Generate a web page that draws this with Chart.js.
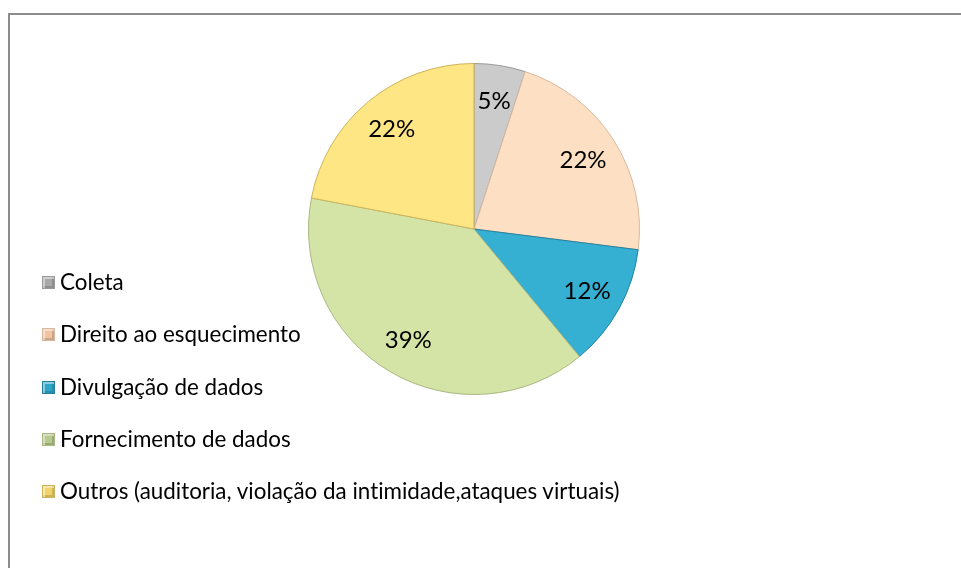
<!DOCTYPE html>
<html>
<head>
<meta charset="utf-8">
<script src="https://cdn.jsdelivr.net/npm/chart.js@4/dist/chart.umd.min.js"></script>
<style>
  html, body { margin: 0; padding: 0; background: #fff; }
  #wrap { position: relative; width: 961px; height: 568px; overflow: hidden; }
  #frame { position: absolute; left: 8px; top: 13px; width: 980px; height: 600px;
           border-top: 2px solid #8c8c8c; border-left: 2px solid #8c8c8c; box-sizing: border-box; }
  canvas { position: absolute; left: 0; top: 0; }
  #legend { position: absolute; left: 42px; top: 270px; font-family: Lato, "Open Sans", sans-serif;
            font-size: 22.4px; color: #000; font-variant-ligatures: none; }
  .item { position: absolute; left: 0; white-space: nowrap; height: 24px; line-height: 24px; }
  .mk { position: absolute; left: 0; top: 6px; width: 13px; height: 13px; box-sizing: border-box; }
  .tx { position: absolute; left: 18px; top: 0; }
</style>
</head>
<body>
<div id="wrap">
  <div id="frame"></div>
  <canvas id="c" width="961" height="568"></canvas>
  <div id="legend"></div>
</div>
<script>
const categories = [
  "Coleta",
  "Direito ao esquecimento",
  "Divulgação de dados",
  "Fornecimento de dados",
  "Outros (auditoria, violação da intimidade,ataques virtuais)"
];
const values = [5, 22, 12, 39, 22];
const valueLabels = ["5%", "22%", "12%", "39%", "22%"];
const sliceColors = ["#cbcbcb", "#fddfc3", "#35afd2", "#d4e3a6", "#fee684"];
const edgeColors = ["#9a9a9a", "#d8b89c", "#23809e", "#a9b880", "#cdb45a"];
const markerColors = ["#a8a8a8", "#f0c4a0", "#2ea6c8", "#b6c98e", "#f0d36a"];

const labelPlugin = {
  id: 'sliceLabels',
  afterDatasetsDraw(chart) {
    const ctx = chart.ctx;
    const meta = chart.getDatasetMeta(0);
    ctx.save();
    ctx.font = '24px Lato, "Open Sans", sans-serif';
    ctx.fillStyle = '#000';
    ctx.textAlign = 'center';
    ctx.textBaseline = 'middle';
    meta.data.forEach((arc, i) => {
      const p = arc.getProps(['x', 'y', 'startAngle', 'endAngle', 'outerRadius'], true);
      const mid = (p.startAngle + p.endAngle) / 2;
      const r = p.outerRadius * 0.78;
      ctx.fillText(valueLabels[i], p.x + Math.cos(mid) * r, p.y + Math.sin(mid) * r);
    });
    ctx.restore();
  }
};

new Chart(document.getElementById('c'), {
  type: 'pie',
  data: {
    labels: categories,
    datasets: [{
      data: values,
      backgroundColor: sliceColors,
      borderColor: edgeColors,
      borderWidth: 1
    }]
  },
  options: {
    responsive: false,
    animation: false,
    layout: { padding: { left: 308, right: 321, top: 63, bottom: 173 } },
    plugins: { legend: { display: false }, tooltip: { enabled: false } }
  },
  plugins: [labelPlugin]
});

const legend = document.getElementById('legend');
categories.forEach((name, i) => {
  const item = document.createElement('div');
  item.className = 'item';
  item.style.top = (i * 52.3) + 'px';
  const mk = document.createElement('div');
  mk.className = 'mk';
  mk.style.background = markerColors[i];
  mk.style.border = '1px solid ' + edgeColors[i];
  mk.style.boxShadow = 'inset 2px 2px 0 rgba(255,255,255,0.45), inset -2px -2px 0 rgba(0,0,0,0.15)';
  const tx = document.createElement('span');
  tx.className = 'tx';
  tx.textContent = name;
  item.appendChild(mk);
  item.appendChild(tx);
  legend.appendChild(item);
});
</script>
</body>
</html>
